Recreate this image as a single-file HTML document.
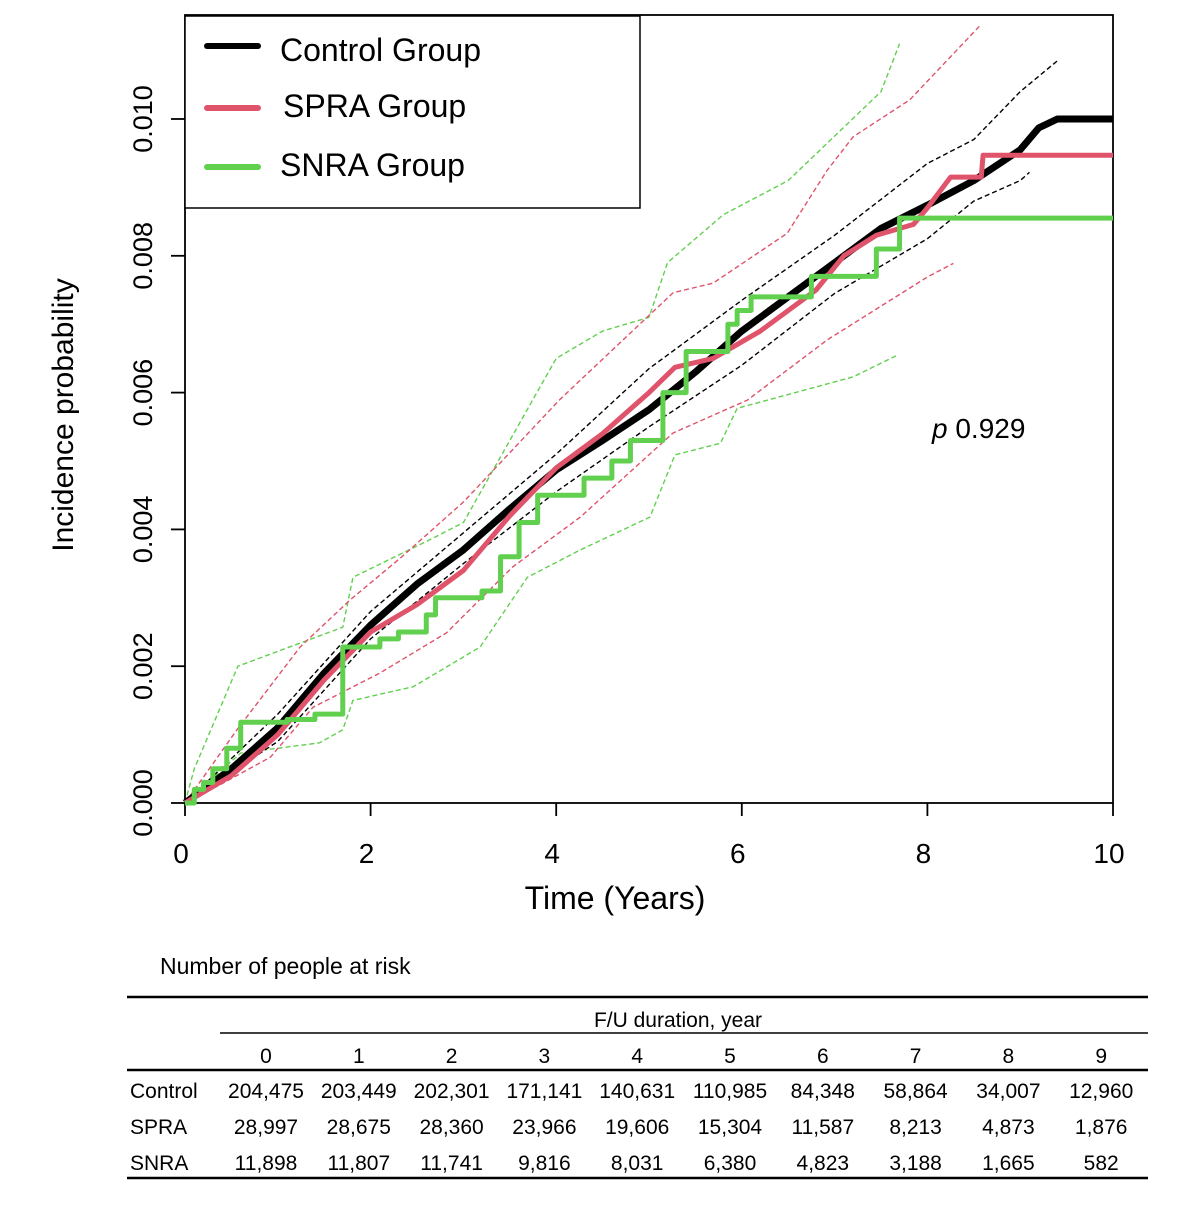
<!DOCTYPE html>
<html><head><meta charset="utf-8"><style>
body{margin:0;background:#fff;width:1200px;height:1200px;overflow:hidden}
svg text{font-family:"Liberation Sans","Noto Sans CJK KR",sans-serif;fill:#000}
</style></head><body>
<svg id="chart" width="1200" height="1200" viewBox="0 0 1200 1200" xmlns="http://www.w3.org/2000/svg">
<g id="plot"></g>
<g id="legend">
 <rect x="185" y="16" width="455" height="192" fill="#fff" stroke="#000" stroke-width="1.5"/>
 <line x1="207" y1="46" x2="258" y2="46" stroke="#000" stroke-width="6" stroke-linecap="round"/>
 <text x="280" y="61" font-size="32">Control Group</text>
 <line x1="207" y1="108" x2="258" y2="108" stroke="#DF536B" stroke-width="6" stroke-linecap="round"/>
 <text x="283" y="117" font-size="32">SPRA Group</text>
 <line x1="207" y1="167" x2="258" y2="167" stroke="#61D04F" stroke-width="6" stroke-linecap="round"/>
 <text x="280" y="176" font-size="32">SNRA Group</text>
</g>
<text x="932" y="438" font-size="28"><tspan font-style="italic">p</tspan> 0.929</text>
<text x="615" y="909" font-size="32" text-anchor="middle">Time (Years)</text>
<text transform="translate(73,415) rotate(-90)" font-size="30" text-anchor="middle">Incidence probability</text>
<g id="table">
 <text x="160" y="974" font-size="23">Number of people at risk</text>
 <line x1="127" y1="997" x2="1148" y2="997" stroke="#000" stroke-width="2.5"/>
 <text x="678" y="1027" font-size="21" text-anchor="middle">F/U duration, year</text>
 <line x1="220" y1="1033" x2="1148" y2="1033" stroke="#000" stroke-width="1.5"/>
 <line x1="127" y1="1070" x2="1148" y2="1070" stroke="#000" stroke-width="2.5"/>
 <line x1="127" y1="1178" x2="1148" y2="1178" stroke="#000" stroke-width="2.5"/>
</g>
</svg>
<script>
// ---- data ----
const xTicks=[0,2,4,6,8,10];
const yTicks=[0,0.002,0.004,0.006,0.008,0.010];
const yTickLabels=["0.000","0.002","0.004","0.006","0.008","0.010"];
// Control (fine steps, drawn as a polyline)
const controlT=[0,0.5,1,1.5,2,2.5,3,3.5,4,4.5,5,5.5,6,6.5,7,7.5,8,8.5,9,9.2,9.4,10];
const controlV=[0,0.0005,0.0011,0.0019,0.0026,0.0032,0.0037,0.0043,0.00487,0.0053,0.00575,0.0063,0.0069,0.0074,0.0079,0.0084,0.00874,0.0091,0.00955,0.00987,0.0100,0.0100];
const controlUpT=[0,1,2,3,4,5,6,7,8,8.5,9,9.4];
const controlUpV=[0,0.0013,0.0028,0.00395,0.0051,0.00635,0.00735,0.0083,0.00935,0.0097,0.0104,0.01085];
const controlLoT=[0,1,2,3,4,5,6,7,8,8.5,9,9.1];
const controlLoV=[0,0.0009,0.0024,0.0035,0.00455,0.0055,0.0064,0.00745,0.00825,0.0088,0.0091,0.00922];
// SPRA
const spraT=[0,0.5,1,1.5,2,2.5,3,3.5,4,4.5,5,5.28,5.69,6.2,6.8,7.1,7.45,7.85,8.0,8.25,8.58,8.6,10];
const spraV=[0,0.0004,0.001,0.0018,0.0025,0.0029,0.0034,0.0042,0.0049,0.0054,0.006,0.00637,0.0065,0.0069,0.0075,0.008,0.0083,0.00846,0.0087,0.00915,0.00915,0.00947,0.00947];
const spraUpT=[0,0.56,1.24,1.78,2.32,3,4.04,5.26,5.69,6.49,6.92,7.2,7.81,8.57];
const spraUpV=[0,0.00107,0.00228,0.00297,0.00358,0.0044,0.0059,0.00746,0.0076,0.00833,0.00925,0.00974,0.01028,0.01137];
const spraLoT=[0,0.41,0.92,1.38,2.1,2.82,3.53,4.26,5.26,6.06,6.92,8.0,8.28];
const spraLoV=[0,0.00029,0.00067,0.0014,0.0019,0.00249,0.00345,0.00418,0.00541,0.00589,0.00677,0.00769,0.00789];
// SNRA (steps)
const snraT=[0,0.1,0.2,0.3,0.45,0.6,1.1,1.4,1.7,2.1,2.3,2.6,2.7,3.2,3.4,3.6,3.8,4.3,4.6,4.8,5.15,5.4,5.85,5.95,6.1,6.75,7.45,7.7,10];
const snraV=[0,0.0002,0.0003,0.0005,0.0008,0.00118,0.00122,0.0013,0.00228,0.0024,0.0025,0.00275,0.003,0.0031,0.0036,0.0041,0.0045,0.00475,0.0050,0.0053,0.006,0.0066,0.0070,0.0072,0.0074,0.0077,0.0081,0.00855,0.00855];
const snraUpT=[0,0.1,0.57,1.7,1.81,2.64,3,3.5,4,4.5,5,5.2,5.8,6.5,7.5,7.7];
const snraUpV=[0,0.0005,0.002,0.00257,0.0033,0.00385,0.0041,0.0053,0.0065,0.0069,0.0071,0.0079,0.0086,0.0091,0.0104,0.0111];
const snraLoT=[0,0.6,1.45,1.7,1.81,2.46,3.18,3.29,3.69,4.26,5.01,5.28,5.77,5.95,7.2,7.68];
const snraLoV=[0,0.00073,0.00088,0.00107,0.0015,0.0017,0.00228,0.0025,0.0033,0.0037,0.00418,0.00509,0.00526,0.00577,0.00623,0.00655];
// risk table
const tableYears=[0,1,2,3,4,5,6,7,8,9];
const riskControl=["204,475","203,449","202,301","171,141","140,631","110,985","84,348","58,864","34,007","12,960"];
const riskSpra=["28,997","28,675","28,360","23,966","19,606","15,304","11,587","8,213","4,873","1,876"];
const riskSnra=["11,898","11,807","11,741","9,816","8,031","6,380","4,823","3,188","1,665","582"];

// ---- axes ----
const NS="http://www.w3.org/2000/svg";
const X0=185,X1=1113,Y0=803,Y1=119;
const sx=t=>X0+(X1-X0)*t/10;
const sy=v=>Y0-(Y0-Y1)*v/0.010;
const plot=document.getElementById('plot');
function mk(tag,attrs,parent){const e=document.createElementNS(NS,tag);for(const k in attrs)e.setAttribute(k,attrs[k]);(parent||plot).appendChild(e);return e;}

const frame=mk('rect',{x:X0,y:15,width:X1-X0,height:Y0-15,fill:'none',stroke:'#000','stroke-width':1.8});



xTicks.forEach(t=>{
  const l=mk('line',{x1:sx(t),y1:Y0,x2:sx(t),y2:Y0+13,stroke:'#000','stroke-width':1.8});
  
  
  const tx=mk('text',{x:sx(t)-4,y:863,'font-size':28,'text-anchor':'middle'});
  tx.textContent=String(t);
  
  
});
yTicks.forEach((v,i)=>{
  const l=mk('line',{x1:X0-14,y1:sy(v),x2:X0,y2:sy(v),stroke:'#000','stroke-width':1.8});
  
  
  const tx=mk('text',{transform:`translate(152,${sy(v)}) rotate(-90)`,'font-size':27,'text-anchor':'middle'});
  tx.textContent=yTickLabels[i];
  
  
});

function stepPath(T,V){let d=`M${sx(T[0])},${sy(V[0])}`;for(let i=1;i<T.length;i++){d+=` H${sx(T[i])} V${sy(V[i])}`;}return d;}
function linePath(T,V){return T.map((t,i)=>(i?'L':'M')+sx(t)+','+sy(V[i])).join(' ');}

function ci(T,V,color,name){
  const p=mk('path',{d:linePath(T,V),fill:'none',stroke:color,'stroke-width':1.4,'stroke-dasharray':'5,3'});
  
  
}
function curve(d,color,w,name){
  const p=mk('path',{d:d,fill:'none',stroke:color,'stroke-width':w,'stroke-linejoin':'round'});
  
  
}
ci(snraUpT,snraUpV,'#61D04F','snra-ci-upper');
ci(snraLoT,snraLoV,'#61D04F','snra-ci-lower');
ci(spraUpT,spraUpV,'#DF536B','spra-ci-upper');
ci(spraLoT,spraLoV,'#DF536B','spra-ci-lower');
ci(controlUpT,controlUpV,'#000','control-ci-upper');
ci(controlLoT,controlLoV,'#000','control-ci-lower');
curve(linePath(controlT,controlV),'#000',7,'control-curve');
curve(linePath(spraT,spraV),'#DF536B',5,'spra-curve');
curve(stepPath(snraT,snraV),'#61D04F',5,'snra-curve');

// ---- table ----
const table=document.getElementById('table');
const colX=i=>266+i*92.8;
tableYears.forEach((y,i)=>{
  const t=mk('text',{x:colX(i),y:1063,'font-size':21,'text-anchor':'middle'},table);
  t.textContent=String(y);
  
  
});
[["Control",riskControl,1098],["SPRA",riskSpra,1134],["SNRA",riskSnra,1170]].forEach(([lab,arr,y])=>{
  const l=mk('text',{x:130,y:y,'font-size':21},table);
  l.textContent=lab;
  
  
  arr.forEach((v,i)=>{
    const c=mk('text',{x:colX(i),y:y,'font-size':21,'text-anchor':'middle'},table);
    c.textContent=v;
    
    
  });
});
</script>
</body></html>
